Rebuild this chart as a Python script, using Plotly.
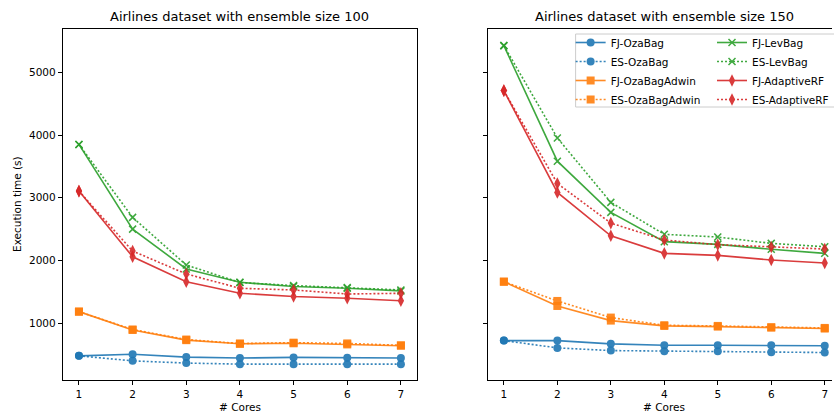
import plotly.graph_objects as go

# Number of cores used for each run
cores = [1, 2, 3, 4, 5, 6, 7]

# Execution times (s) with ensemble size 100
fj_ozabag_100 = [480, 505, 460, 445, 455, 450, 445]
es_ozabag_100 = [480, 400, 365, 348, 348, 348, 348]
fj_ozabagadwin_100 = [1185, 893, 730, 672, 680, 662, 642]
es_ozabagadwin_100 = [1185, 900, 740, 676, 690, 678, 648]
fj_levbag_100 = [3850, 2500, 1865, 1652, 1585, 1557, 1515]
es_levbag_100 = [3850, 2687, 1928, 1650, 1600, 1570, 1530]
fj_adaptiverf_100 = [3106, 2060, 1662, 1478, 1425, 1398, 1358]
es_adaptiverf_100 = [3106, 2151, 1785, 1557, 1530, 1466, 1477]

# Execution times (s) with ensemble size 150
fj_ozabag_150 = [723, 723, 671, 650, 650, 650, 640]
es_ozabag_150 = [723, 607, 564, 554, 554, 538, 533]
fj_ozabagadwin_150 = [1662, 1275, 1042, 957, 946, 931, 915]
es_ozabagadwin_150 = [1662, 1355, 1090, 968, 957, 936, 925]
fj_levbag_150 = [5425, 3583, 2767, 2300, 2257, 2178, 2114]
es_levbag_150 = [5425, 3954, 2926, 2417, 2374, 2273, 2220]
fj_adaptiverf_150 = [4708, 3085, 2394, 2114, 2082, 2008, 1960]
es_adaptiverf_150 = [4708, 3228, 2596, 2326, 2252, 2215, 2183]

y_ticks = [1000, 2000, 3000, 4000, 5000]

W, H = 834, 414
FONT = "DejaVu Sans"
TXT = 10.5


def px(x):
    return x / W


def py(y):
    return 1 - y / H


# name, color, marker symbol, marker size, dash, legend column, data100, data150
series = [
    ("FJ-OzaBag", "#1f77b4", "circle", 8, "solid", "legend", fj_ozabag_100, fj_ozabag_150),
    ("ES-OzaBag", "#1f77b4", "circle", 8, "2px,2px", "legend", es_ozabag_100, es_ozabag_150),
    ("FJ-OzaBagAdwin", "#ff7f0e", "square", 8, "solid", "legend", fj_ozabagadwin_100, fj_ozabagadwin_150),
    ("ES-OzaBagAdwin", "#ff7f0e", "square", 8, "2px,2px", "legend", es_ozabagadwin_100, es_ozabagadwin_150),
    ("FJ-LevBag", "#2ca02c", "x-thin", 7, "solid", "legend2", fj_levbag_100, fj_levbag_150),
    ("ES-LevBag", "#2ca02c", "x-thin", 7, "2px,2px", "legend2", es_levbag_100, es_levbag_150),
    ("FJ-AdaptiveRF", "#d62728", "diamond-tall", 9, "solid", "legend2", fj_adaptiverf_100, fj_adaptiverf_150),
    ("ES-AdaptiveRF", "#d62728", "diamond-tall", 9, "2px,2px", "legend2", es_adaptiverf_100, es_adaptiverf_150),
]

fig = go.Figure()

for name, color, symbol, size, dash, leg, d100, d150 in series:
    marker = dict(symbol=symbol, size=size, color=color,
                  line=dict(color=color, width=1.5 if symbol == "x-thin" else 0))
    line = dict(color=color, width=1.6, dash=dash)
    fig.add_trace(go.Scatter(
        x=cores, y=d100, mode="lines+markers", name=name,
        showlegend=False, line=line, marker=marker, opacity=0.9,
        xaxis="x", yaxis="y"))
    fig.add_trace(go.Scatter(
        x=cores, y=d150, mode="lines+markers", name=name,
        showlegend=True, legend=leg, line=line, marker=marker, opacity=0.9,
        xaxis="x2", yaxis="y2"))

axis_common = dict(
    showgrid=False, zeroline=False, showline=True, linecolor="black", linewidth=1,
    ticks="outside", ticklen=4, tickwidth=1, tickcolor="black",
    tickfont=dict(family=FONT, size=TXT, color="black"),
)

y_range = [95, 5690]
y_domain = [py(380), py(29)]

legend_style = dict(yanchor="top", xanchor="left", bgcolor="rgba(0,0,0,0)",
                    borderwidth=0, itemwidth=30, tracegroupgap=0,
                    font=dict(family=FONT, size=TXT, color="black"))

fig.update_layout(
    width=W, height=H,
    margin=dict(l=0, r=0, t=0, b=0),
    paper_bgcolor="white", plot_bgcolor="white",
    font=dict(family=FONT, size=TXT, color="black"),
    xaxis=dict(domain=[px(63), px(418)], range=[0.7, 7.3], tickvals=cores,
               mirror=True, anchor="y", **axis_common),
    yaxis=dict(domain=y_domain, range=y_range, tickvals=y_ticks,
               mirror=True, anchor="x", **axis_common),
    xaxis2=dict(domain=[px(489), 1.0], range=[0.7, 7.136], tickvals=cores,
                mirror=True, anchor="y2", **axis_common),
    yaxis2=dict(domain=y_domain, range=y_range, tickvals=y_ticks,
                showticklabels=False, anchor="x2", **axis_common),
    legend=dict(x=px(572), y=py(28), **legend_style),
    legend2=dict(x=px(714), y=py(28), **legend_style),
    shapes=[dict(type="rect", xref="paper", yref="paper",
                 x0=px(577), x1=px(850), y0=py(34), y1=py(107),
                 line=dict(color="#cccccc", width=1), fillcolor="rgba(255,255,255,0.8)",
                 layer="below")],
    annotations=[
        dict(text="Airlines dataset with ensemble size 100", x=px(240.5), y=py(17),
             xref="paper", yref="paper", showarrow=False, xanchor="center", yanchor="middle",
             font=dict(family=FONT, size=13, color="black")),
        dict(text="Airlines dataset with ensemble size 150", x=px(666), y=py(17),
             xref="paper", yref="paper", showarrow=False, xanchor="center", yanchor="middle",
             font=dict(family=FONT, size=13, color="black")),
        dict(text="# Cores", x=px(240.5), y=py(407), xref="paper", yref="paper",
             showarrow=False, xanchor="center", yanchor="middle",
             font=dict(family=FONT, size=TXT, color="black")),
        dict(text="# Cores", x=px(666), y=py(407), xref="paper", yref="paper",
             showarrow=False, xanchor="center", yanchor="middle",
             font=dict(family=FONT, size=TXT, color="black")),
        dict(text="Execution time (s)", x=px(17), y=py(204), xref="paper", yref="paper",
             showarrow=False, textangle=-90, xanchor="center", yanchor="middle",
             font=dict(family=FONT, size=TXT, color="black")),
    ],
)

fig.write_html("out.html")
